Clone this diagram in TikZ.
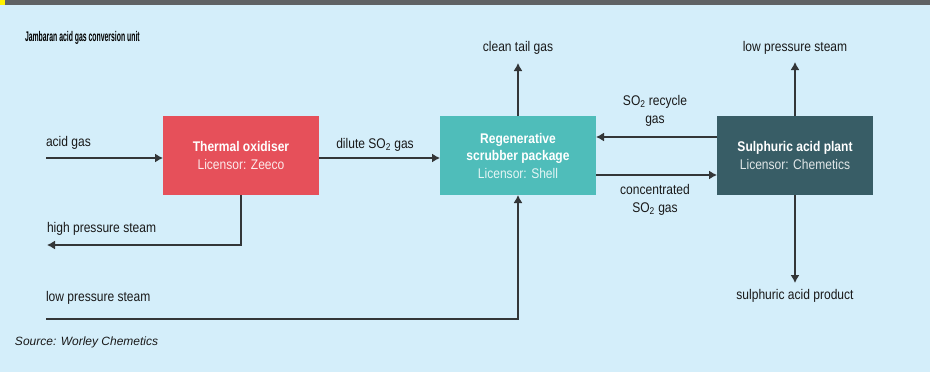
\documentclass[tikz,border=0pt]{standalone}
\usepackage{fontspec}
\setmainfont[FakeStretch=0.86]{Liberation Sans}
\newfontfamily\plainsans{Liberation Sans}
\usetikzlibrary{positioning,calc,arrows.meta}
\definecolor{bgblue}{HTML}{D4EEFA}
\definecolor{barsgrey}{HTML}{5F6264}
\definecolor{oxred}{HTML}{E6505A}
\definecolor{scrubteal}{HTML}{4FBDBA}
\definecolor{plantdark}{HTML}{385D66}
\definecolor{pipe}{HTML}{333638}

\begin{document}
\begin{tikzpicture}[x=1pt,y=-1pt,every node/.style={outer sep=0pt,inner sep=0pt,
font=\fontsize{14}{17.5}\selectfont,text=black!90}]
\tikzstyle{unit}=[minimum width=156pt,minimum height=79pt,align=center,text=white]
\tikzstyle{flow}=[line width=1.3pt,draw=pipe,-{Latex[length=8pt,width=9pt]}]
\tikzstyle{lbl}=[align=center,font=\fontsize{14}{18}\selectfont]
% background
\useasboundingbox (0,0) rectangle (930,372);
\fill[bgblue] (0,0) rectangle (930,372);
\fill[barsgrey] (0,0) rectangle (930,4.5);
\fill[yellow] (0,0) rectangle (4.5,4.5);
\node (title) [anchor=west,text=black] at (25,38)
  {\scalebox{0.49}[1]{\plainsans\bfseries\fontsize{14}{16}\selectfont Jambaran acid gas conversion unit}};
% units
\node (oxid) [unit,fill=oxred] at (241,155.5)
  {\textbf{Thermal oxidiser}\\[1pt]{\color{white!88!oxred}Licensor: Zeeco}};
\node (scrub) [unit,fill=scrubteal] at (518,155.5)
  {\textbf{Regenerative}\\\textbf{scrubber package}\\{\color{white!85!scrubteal}Licensor: Shell}};
\node (acid) [unit,fill=plantdark] at (795,155.5)
  {\textbf{Sulphuric acid plant}\\[1pt]{\color{white!85!plantdark}Licensor: Chemetics}};
% free ends
\coordinate (gasin) at (46,158);
\coordinate (hpout) at (47,245);
\coordinate (lpin) at (46,319);
\coordinate (tail) at (518,63);
\coordinate (lpout) at (795,62);
\coordinate (prod) at (795,283);
\coordinate (recyc) at (717,137);
\coordinate (conc) at (596,175);
% streams
\draw [flow] (gasin) -- (gasin -| oxid.west);
\node [anchor=west] at (46,143) {acid gas};
\draw [flow] (oxid.south) |- (hpout);
\node [anchor=west] at (47,229) {high pressure steam};
\draw [flow] (oxid.east |- gasin) -- (gasin -| scrub.west);
\node [lbl] at (375,145) {dilute SO\textsubscript{2} gas};
\draw [flow] (lpin) -| (scrub.south);
\node [anchor=west] at (46,298) {low pressure steam};
\draw [flow] (scrub.north) -- (tail);
\node [lbl] at (518,48) {clean tail gas};
\draw [flow] (recyc) -- (recyc -| scrub.east);
\node [lbl] at (655,111) {SO\textsubscript{2} recycle\\gas};
\draw [flow] (conc) -- (conc -| acid.west);
\node [lbl] at (655,200) {concentrated\\SO\textsubscript{2} gas};
\draw [flow] (acid.north) -- (lpout);
\node [lbl] at (795,48) {low pressure steam};
\draw [flow] (acid.south) -- (prod);
\node [lbl] at (795,296) {sulphuric acid product};
%
\node (source) [anchor=west] at (15,342)
  {\plainsans\itshape\fontsize{12}{14}\selectfont Source: Worley Chemetics};
\end{tikzpicture}
\end{document}
